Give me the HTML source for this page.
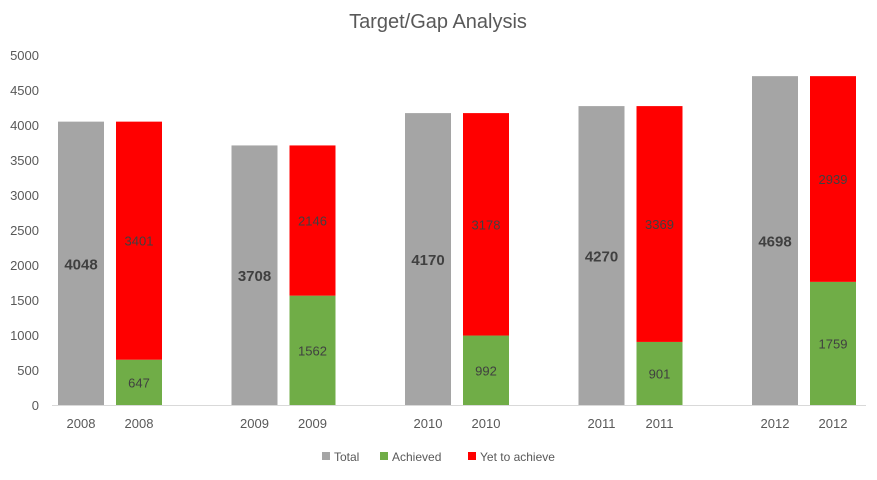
<!DOCTYPE html>
<html><head><meta charset="utf-8"><style>
body{margin:0;background:#fff}
text{font-family:"Liberation Sans",sans-serif}
</style></head><body>
<svg id="chart" width="877" height="475" xmlns="http://www.w3.org/2000/svg">
<text x="438" y="28" text-anchor="middle" font-size="20" fill="#595959">Target/Gap Analysis</text>
<line x1="52" y1="405.5" x2="866" y2="405.5" stroke="#d9d9d9" stroke-width="1"/>
<g id="yt"></g><g id="bars"></g>
<g font-size="12" fill="#595959">
<rect x="322" y="452" width="8" height="8" fill="#a5a5a5"/>
<text x="334" y="461">Total</text>
<rect x="380" y="452" width="8" height="8" fill="#70ad47"/>
<text x="392" y="461">Achieved</text>
<rect x="468" y="452" width="8" height="8" fill="#ff0000"/>
<text x="480" y="461">Yet to achieve</text>
</g>
</svg>
<script>
const categories=["2008","2009","2010","2011","2012"];
const totals=[4048,3708,4170,4270,4698];
const achieved=[647,1562,992,901,1759];
const yTicks=[0,500,1000,1500,2000,2500,3000,3500,4000,4500,5000];
const NS="http://www.w3.org/2000/svg";
const y=v=>405-v*0.07;
const x=i=>58+i*173.5;
function mk(tag,attrs,parent,txt){const e=document.createElementNS(NS,tag);for(const k in attrs)e.setAttribute(k,attrs[k]);if(txt!==undefined)e.textContent=txt;parent.appendChild(e);return e;}
const yt=document.getElementById('yt'),bars=document.getElementById('bars');
yTicks.forEach(v=>{const t=mk('text',{x:39,y:y(v)+5,'text-anchor':'end','font-size':13,fill:'#595959'},yt,String(v));

});
categories.forEach((c,i)=>{
const gx=x(i),rx=gx+58,w=46,tot=totals[i],ach=achieved[i],yet=tot-ach;
const g=mk('rect',{x:gx,y:y(tot),width:w,height:tot*0.07,fill:'#a5a5a5'},bars);


const a=mk('rect',{x:rx,y:y(ach),width:w,height:ach*0.07,fill:'#70ad47'},bars);


const r=mk('rect',{x:rx,y:y(tot),width:w,height:yet*0.07,fill:'#ff0000'},bars);


const l1=mk('text',{x:gx+w/2,y:y(tot/2)+6,'text-anchor':'middle','font-size':15,'font-weight':'bold',fill:'#404040'},bars,String(tot));


const l2=mk('text',{x:rx+w/2,y:y(ach/2)+5,'text-anchor':'middle','font-size':13,fill:'#404040'},bars,String(ach));


const l3=mk('text',{x:rx+w/2,y:y(ach+yet/2)+5,'text-anchor':'middle','font-size':13,fill:'#404040'},bars,String(yet));


[gx,rx].forEach(bx=>{const t=mk('text',{x:bx+w/2,y:428,'text-anchor':'middle','font-size':13,fill:'#595959'},bars,c);

});
});
</script>
</body></html>
